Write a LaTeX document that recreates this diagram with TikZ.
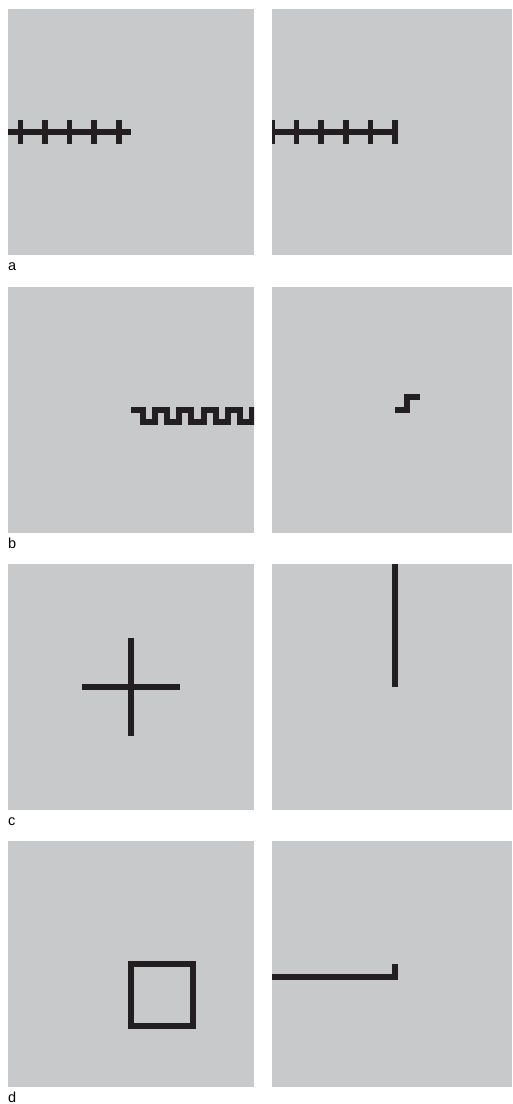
\documentclass[tikz,border=0pt]{standalone}
\usepackage{fontspec}
\setmainfont{Liberation Sans}
\definecolor{panelgray}{HTML}{C8C9CB}
\definecolor{ink}{HTML}{231F20}
\begin{document}
\begin{tikzpicture}[x=1pt,y=-1pt,
  panel/.style={fill=panelgray},
  stroke/.style={draw=ink,line width=6pt,line cap=butt,line join=miter},
  tick/.style={draw=ink,line width=5.6pt,line cap=butt},
  lbl/.style={anchor=base west,inner sep=0pt,font=\fontsize{14.5}{16}\selectfont}]
\useasboundingbox[fill=white] (0,0) rectangle (512,1104);

% ---------- row a ----------
\fill[panel] (8,9) rectangle (254,255);
\begin{scope}
  \clip (8,9) rectangle (254,255);
  \draw[stroke] (8,132) -- (131,132);
  \foreach \x in {20.3,44.9,69.5,94.1,118.7}
    \draw[tick] (\x,119.7) -- (\x,144.3);
\end{scope}
\fill[panel] (272,9) rectangle (512,255);
\begin{scope}
  \clip (272,9) rectangle (512,255);
  \draw[stroke] (272,132) -- (395,132);
  \foreach \x in {272,296.6,321.2,345.8,370.4,394.8}
    \draw[tick] (\x,119.7) -- (\x,144.3);
\end{scope}
\node[lbl] (la) at (8,270) {a};

% ---------- row b ----------
\fill[panel] (8,287) rectangle (254,533);
\begin{scope}
  \clip (8,287) rectangle (254,533);
  \draw[stroke] (131,409.5) -- (143,409.5) -- (143,421.5) -- (155.1,421.5)
    -- (155.1,409.5) -- (167.2,409.5) -- (167.2,421.5) -- (179.3,421.5)
    -- (179.3,409.5) -- (191.4,409.5) -- (191.4,421.5) -- (203.5,421.5)
    -- (203.5,409.5) -- (215.6,409.5) -- (215.6,421.5) -- (227.7,421.5)
    -- (227.7,409.5) -- (239.8,409.5) -- (239.8,421.5) -- (251.9,421.5)
    -- (251.9,409.5) -- (262,409.5);
\end{scope}
\fill[panel] (272,287) rectangle (512,533);
\draw[stroke] (395,410) -- (407.3,410) -- (407.3,397) -- (420,397);
\node[lbl] (lb) at (8,548) {b};

% ---------- row c ----------
\fill[panel] (8,564) rectangle (254,810);
\draw[stroke] (81.8,687) -- (180.2,687);
\draw[stroke] (131,637.8) -- (131,736.2);
\fill[panel] (272,564) rectangle (512,810);
\draw[stroke] (395,564) -- (395,687);
\node[lbl] (lc) at (8,825.5) {c};

% ---------- row d ----------
\fill[panel] (8,841) rectangle (254,1087);
\draw[stroke] (131,964) rectangle (192.5,1025.5);
\fill[panel] (272,841) rectangle (512,1087);
\draw[stroke] (272,976.5) -- (395.3,976.5) -- (395.3,964);
\node[lbl] (ld) at (8,1102.5) {d};
\end{tikzpicture}
\end{document}
